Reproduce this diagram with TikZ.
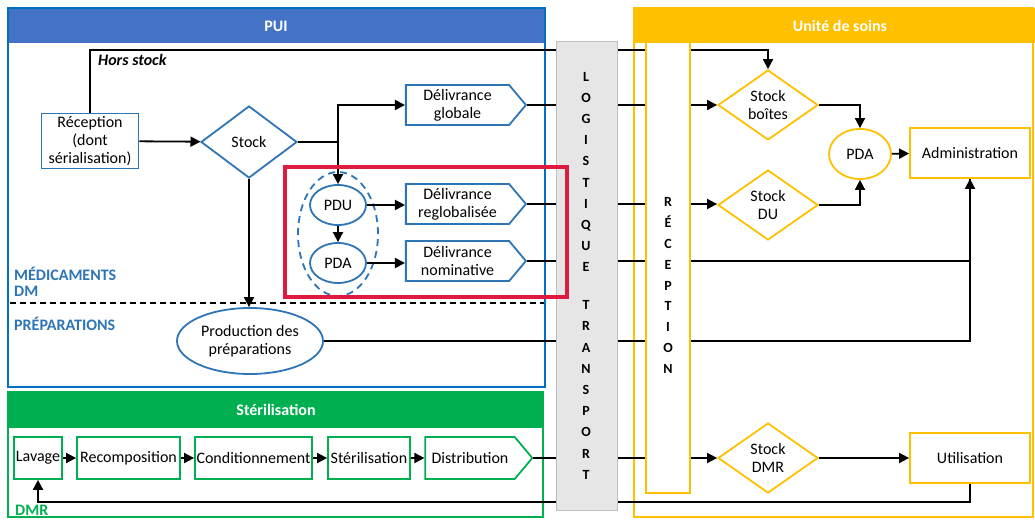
\documentclass[tikz,border=0pt]{standalone}
\usepackage{fontspec}
\setmainfont{Carlito}
\usetikzlibrary{shapes.geometric,shapes.symbols,arrows.meta}
\definecolor{puiblue}{HTML}{4472C4}
\definecolor{frameblue}{HTML}{0070C0}
\definecolor{nodeblue}{HTML}{2E75B6}
\definecolor{yel}{HTML}{FFC000}
\definecolor{grn}{HTML}{00B050}
\definecolor{redc}{HTML}{E0193F}
\definecolor{colgray}{HTML}{E6E6E6}
\tikzset{
  ln/.style={line width=1.8pt, draw=black},
  arr/.style={ln, -{Triangle[length=10pt,width=10pt]}},
  txt/.style={font=\fontsize{16}{18}\selectfont, align=center, text=black},
  bbox/.style={txt, rectangle, draw=nodeblue, line width=1.8pt, fill=white, inner sep=0pt},
  bdiam/.style={txt, diamond, draw=nodeblue, line width=1.8pt, fill=white, inner sep=0pt, minimum width=96pt, minimum height=72pt},
  bell/.style={txt, ellipse, draw=nodeblue, line width=1.8pt, fill=white, inner sep=0pt},
  bsig/.style={txt, signal, signal to=east, signal pointer angle=100, draw=nodeblue, line width=1.8pt, fill=white, inner sep=0pt, minimum width=120pt, minimum height=40pt},
  ybox/.style={txt, rectangle, draw=yel, line width=1.8pt, fill=white, minimum width=120pt, minimum height=50pt},
  ydiam/.style={txt, diamond, draw=yel, line width=1.8pt, fill=white, inner sep=0pt, minimum width=100pt, minimum height=70pt},
  gbox/.style={txt, rectangle, draw=grn, line width=1.8pt, fill=white, inner sep=0pt, minimum height=42pt},
  lab/.style={font=\fontsize{16}{18}\selectfont\bfseries, text=nodeblue, anchor=west, inner sep=0pt},
  head/.style={font=\fontsize{16}{18}\selectfont\bfseries, text=white},
  colletters/.style={font=\fontsize{14}{21.2}\selectfont\bfseries, align=center, inner sep=0pt}
}
\begin{document}
\begin{tikzpicture}[x=1pt,y=-1pt]
\useasboundingbox (0,0) rectangle (1035,519);
\fill[white] (0,0) rectangle (1035,519);

% frames
\fill[puiblue] (8,8) rectangle (545,43);
\draw[frameblue, line width=2.5pt] (8,8) rectangle (545,387);
\node[head] (puih) at (276,26) {PUI};
\fill[grn] (8,392) rectangle (543,428);
\draw[grn, line width=2.5pt] (8,392) rectangle (543,517);
\node[head] (sterh) at (276,410) {Stérilisation};
\fill[yel] (633,8) rectangle (1035,43);
\draw[yel, line width=2.5pt] (634,8) rectangle (1033,517);
\node[head] (usch) at (840,26) {Unité de soins};

\draw[black, line width=1.3pt, dashed, dash pattern=on 6pt off 4pt] (10,303) -- (544,303);

% labels
\node[lab] (lmed) at (14,274) {MÉDICAMENTS};
\node[lab] (ldm) at (14,291) {DM};
\node[lab] (lprep) at (14,324) {PRÉPARATIONS};
\node[lab, text=grn] (ldmr) at (15,510) {DMR};
\node[font=\fontsize{16}{18}\selectfont\bfseries\itshape, anchor=west, inner sep=0pt] (hstxt) at (98,60) {Hors stock};

% PUI nodes
\node[bbox, minimum width=97pt, minimum height=55pt] (rec) at (90,141) {Réception\\(dont\\sérialisation)};
\node[bdiam] (stock) at (249,142) {Stock};
\node[bsig] (dg) at (457.5,105) {Délivrance\\globale};
\node[bsig] (dr) at (457.5,204) {Délivrance\\reglobalisée};
\node[bsig] (dn) at (457.5,261) {Délivrance\\nominative};
\node[ellipse, draw=nodeblue, line width=1.8pt, dashed, dash pattern=on 7pt off 5pt, minimum width=80pt, minimum height=124pt] (grp) at (338,234) {};
\node[bell, minimum width=56pt, minimum height=40pt] (pdu) at (338,205) {PDU};
\node[bell, minimum width=56pt, minimum height=40pt] (pda) at (338,263) {PDA};
\node[bell, minimum width=146pt, minimum height=66pt] (prod) at (250,341) {Production des\\préparations};

% sterilisation nodes
\node[gbox, minimum width=48pt] (lav) at (38,458) {Lavage};
\node[gbox, minimum width=103pt] (recomp) at (128.5,458) {Recomposition};
\node[gbox, minimum width=117pt] (cond) at (253.5,458) {Conditionnement};
\node[gbox, minimum width=82pt] (steri) at (369,458) {Stérilisation};
\node[txt, signal, signal to=east, signal pointer angle=100, draw=grn, line width=1.8pt, fill=white, inner sep=0pt, minimum width=107pt, minimum height=42pt] (dist) at (470,458) {Distribution};

% unite de soins nodes
\node[ydiam] (sb) at (768,105) {Stock\\boîtes};
\node[ydiam] (sdu) at (768,205) {Stock\\DU};
\node[ydiam] (sdmr) at (768,458) {Stock\\DMR};
\node[txt, ellipse, draw=yel, line width=1.8pt, fill=white, minimum width=62pt, minimum height=50pt, inner sep=0pt] (pda2) at (860,154) {PDA};
\node[ybox] (adm) at (970,153) {Administration};
\node[ybox] (util) at (970,458) {Utilisation};

% connectors
\coordinate (hs) at (768,50);
\coordinate (j1) at (338,142);
\coordinate (ret) at (970,502);
\draw[arr] (rec.north) |- (hs) -- (sb.north);
\draw[arr] (rec) -- (stock);
\draw[arr] (stock.east) -- (j1) |- (dg.west);
\draw[arr] (j1) -- (pdu.north);
\draw[arr] (stock.south) -- (stock.south |- prod.north);
\draw[arr] (pdu) -- (pda);
\draw[arr] (pdu) -- (pdu -| dr.west);
\draw[arr] (pda) -- (pda -| dn.west);
\draw[arr] (dg.east) -- (sb.west);
\draw[arr] (dr.east) -- (dr.east -| sdu.west);
\draw[arr] (dn.east) -| (adm.south);
\draw[ln] (prod.east) -| (adm.south);
\draw[arr] (dist.east) -- (sdmr.west);
\draw[arr] (util.south) -- (ret) -| (lav.south);
\draw[arr] (sb.east) -| (pda2.north);
\draw[arr] (sdu.east) -| (pda2.south);
\draw[arr] (pda2) -- (adm);
\draw[arr] (sdmr) -- (util);
\draw[arr] (lav) -- (recomp);
\draw[arr] (recomp) -- (cond);
\draw[arr] (cond) -- (steri);
\draw[arr] (steri) -- (dist);

% columns on top of lines
\draw[fill=colgray, draw=black!25, line width=1pt] (556,42) rectangle (617,510);
\node[colletters] (logi) at (586,172) {L\\O\\G\\I\\S\\T\\I\\Q\\U\\E};
\node[colletters] (trans) at (586,390) {T\\R\\A\\N\\S\\P\\O\\R\\T};
\draw[fill=white, draw=yel, line width=2pt] (646,42) rectangle (690,493);
\node[colletters, font=\fontsize{14}{20.9}\selectfont\bfseries] (recep) at (668,285.5) {R\\É\\C\\E\\P\\T\\I\\O\\N};

% red highlight
\draw[redc, line width=3.5pt] (285,167) rectangle (567,297);
\end{tikzpicture}
\end{document}
